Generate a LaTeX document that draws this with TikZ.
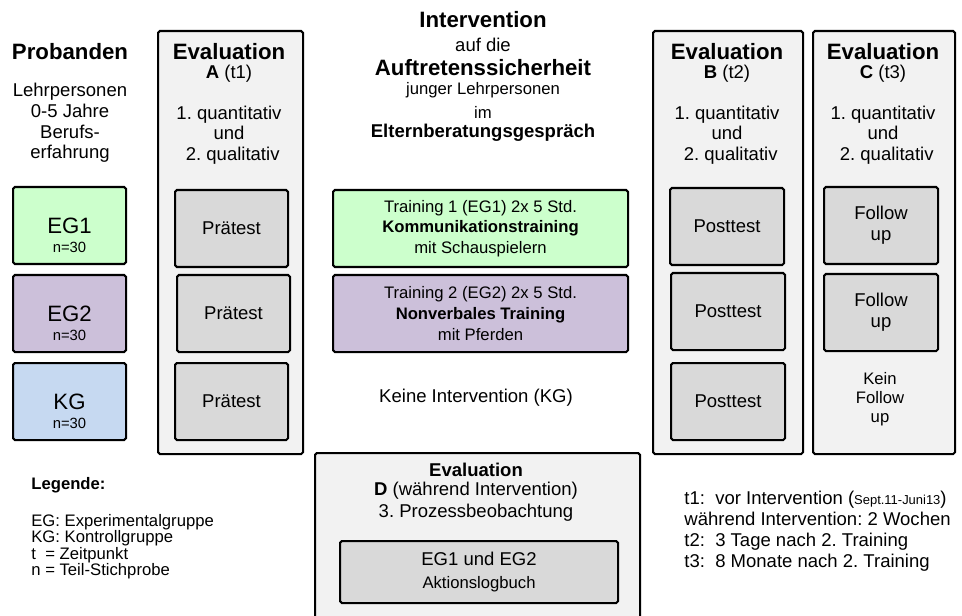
\documentclass[tikz,border=0pt]{standalone}
\usepackage{fontspec}
\setmainfont{Liberation Sans}
\usetikzlibrary{positioning}
\definecolor{egone}{HTML}{CCFFCC}
\definecolor{egtwo}{HTML}{CCC0DA}
\definecolor{kgblue}{HTML}{C6D9F1}
\definecolor{colgray}{HTML}{F2F2F2}
\definecolor{boxgray}{HTML}{D9D9D9}
\newlength\px
\setlength\px{0.54pt}
\frenchspacing
\tikzset{
  column/.style={draw, line width=1.1pt, rounded corners=1pt, fill=colgray, anchor=north west, inner sep=0pt},
  group/.style={draw, line width=1.1pt, rounded corners=1pt, anchor=north west, align=center, inner sep=0pt, minimum width=113*\px, minimum height=77*\px},
  testbox/.style={group, fill=boxgray},
  txt/.style={align=center, inner sep=0pt, font=\fontsize{10}{11.2}\selectfont},
  title/.style={inner sep=0pt, font=\large\bfseries},
}

\begin{document}
\begin{tikzpicture}[x=0.54pt, y=-0.54pt]
\useasboundingbox (0,0) rectangle (962,616);
\clip (0,0) rectangle (962,616);

% evaluation columns
\node[column, minimum width=145*\px, minimum height=423*\px] (colA) at (157,30) {};
\node[column, minimum width=150*\px, minimum height=423*\px] (colB) at (652,30) {};
\node[column, minimum width=142*\px, minimum height=423*\px] (colC) at (812,30) {};
\node[column, minimum width=325*\px, minimum height=200*\px] (colD) at (314,452) {};

% Probanden
\node[title] (probtitle) at (70,52) {Probanden};
\node[txt] (probtext) at (70,123) {Lehrpersonen\\0-5 Jahre\\Berufs-\\erfahrung};
\node[group, fill=egone] (eg1) at (12,186) {\large EG1};
\node[group, fill=egtwo] (eg2) at (12,274) {\large EG2};
\node[group, fill=kgblue] (kg) at (12,362) {\large KG};
\node[txt, font=\footnotesize] (eg1n) at ([yshift=-22*\px]eg1.center) {n=30};
\node[txt, font=\footnotesize] (eg2n) at ([yshift=-22*\px]eg2.center) {n=30};
\node[txt, font=\footnotesize] (kgn) at ([yshift=-22*\px]kg.center) {n=30};

% Evaluation A
\node[title] (evAtitle) at (229,52) {Evaluation};
\node[txt] (evAsub) at (229,74) {\textbf{A} (t1)};
\node[txt] (evAlist) at (229,135) {1. quantitativ\\und\\\hspace*{4pt}2. qualitativ};
\node[testbox] (preone) at (174,189) {Prätest};
\node[testbox] (pretwo) at (176,274) {Prätest};
\node[testbox] (prethree) at (174,362) {Prätest};

% Intervention
\node[title] (intone) at (483,20) {Intervention};
\node[txt] (inttwo) at (483,45) {auf die};
\node[title] (intthree) at (483,68) {Auftretenssicherheit};
\node[txt, font=\small] (intfour) at (483,90) {junger Lehrpersonen};
\node[txt, font=\small] (intfive) at (483,112) {im};
\node[txt, font=\bfseries] (intsix) at (483,133) {Elternberatungsgespräch};
\node[group, fill=egone, minimum width=295*\px, font=\fontsize{9}{11.2}\selectfont] (trainone) at (332,189)
  {Training 1 (EG1) 2x 5 Std.\\\textbf{Kommunikationstraining}\\mit Schauspielern};
\node[group, fill=egtwo, minimum width=295*\px, font=\fontsize{9}{11.2}\selectfont] (traintwo) at (332,274)
  {Training 2 (EG2) 2x 5 Std.\\\textbf{Nonverbales Training}\\mit Pferden};
\node[txt] (keine) at (476,398) {Keine Intervention (KG)};

% Evaluation B
\node[title] (evBtitle) at (727,52) {Evaluation};
\node[txt] (evBsub) at (727,74) {\textbf{B} (t2)};
\node[txt] (evBlist) at (727,135) {1. quantitativ\\und\\\hspace*{4pt}2. qualitativ};
\node[testbox, minimum width=114*\px] (postone) at (669,187) {Posttest};
\node[testbox, minimum width=114*\px] (posttwo) at (670,272) {Posttest};
\node[testbox, minimum width=114*\px] (postthree) at (670,362) {Posttest};

% Evaluation C
\node[title] (evCtitle) at (883,52) {Evaluation};
\node[txt] (evCsub) at (883,74) {\textbf{C} (t3)};
\node[txt] (evClist) at (883,135) {1. quantitativ\\und\\\hspace*{4pt}2. qualitativ};
\node[testbox, minimum width=114*\px, font=\fontsize{10}{11.5}\selectfont] (followone) at (823,186) {Follow\\up};
\node[testbox, minimum width=114*\px, font=\fontsize{10}{11.5}\selectfont] (followtwo) at (823,273) {Follow\\up};
\node[txt, font=\fontsize{9}{10.2}\selectfont] (nofollow) at (880,399) {Kein\\Follow\\up};

% Evaluation D
\node[txt, font=\bfseries] (evDtitle) at (476,470) {Evaluation};
\node[txt] (evDsub) at (476,491) {\textbf{D} (während Intervention)};
\node[txt] (evDlist) at (476,513) {3. Prozessbeobachtung};
\node[testbox, minimum width=278*\px, minimum height=62*\px, font=\fontsize{10}{12.4}\selectfont] (logbook) at (339,540)
  {EG1 und EG2\\{\fontsize{9}{12.4}\selectfont Aktionslogbuch}};

% Legende
\node[inner sep=0pt, anchor=west, font=\small\bfseries] (legtitle) at (31,485) {Legende:};
\node[inner sep=0pt, anchor=north west, align=left, font=\fontsize{9}{8.9}\selectfont] (legtext) at (31,514)
  {EG: Experimentalgruppe\\KG: Kontrollgruppe\\t\ \ = Zeitpunkt\\n = Teil-Stichprobe};

% Zeitpunkte
\node[inner sep=0pt, anchor=north west, align=left, font=\fontsize{10}{11.3}\selectfont] (times) at (684,491)
  {t1:\ \ vor Intervention ({\scriptsize Sept.11-Juni13})\\während Intervention: 2 Wochen\\t2:\ \ 3 Tage nach 2. Training\\t3:\ \ 8 Monate nach 2. Training};
\end{tikzpicture}
\end{document}
